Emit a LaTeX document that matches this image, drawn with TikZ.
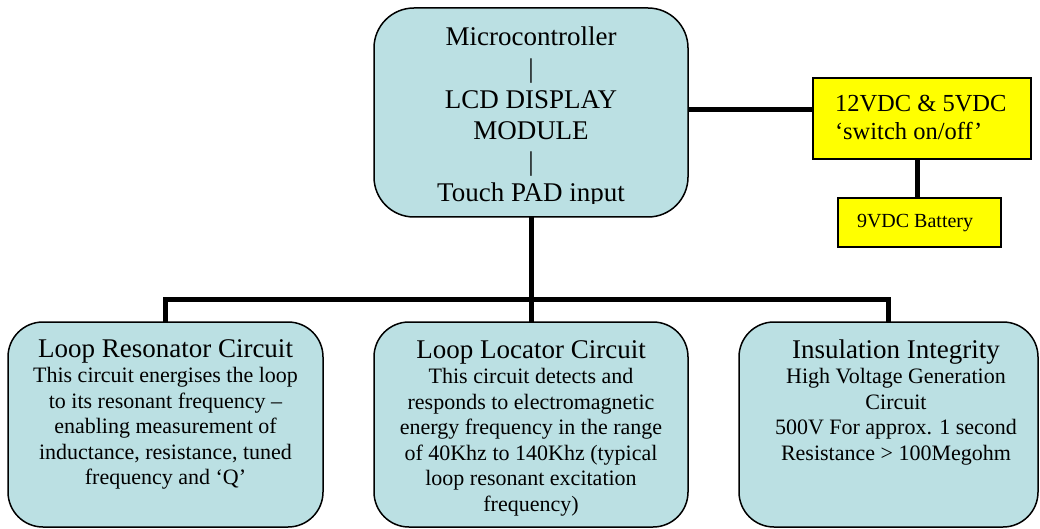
\documentclass[tikz,border=0pt]{standalone}
\usepackage{fontspec}
\setmainfont{Liberation Serif}
\definecolor{boxblue}{RGB}{187,224,227}
\definecolor{boxyellow}{RGB}{255,255,0}
\tikzset{
  bluebox/.style={draw=black, line width=1.5pt, fill=boxblue, inner sep=0pt, outer sep=0pt},
  ybox/.style={draw=black, line width=1.5pt, fill=boxyellow, inner sep=0pt, outer sep=0pt},
  wire/.style={draw=black, line width=5pt, line join=miter},
  txt/.style={inner sep=0pt, outer sep=0pt, anchor=base},
}
\begin{document}
\begin{tikzpicture}[x=1pt, y=-1pt]
\useasboundingbox (0,0) rectangle (1040,529);
% boxes
\node[bluebox, rounded corners=40pt, minimum width=314pt, minimum height=209pt] (mc) at (531,112.5) {};
\node[ybox, minimum width=218pt, minimum height=81pt] (yb) at (922,118.5) {};
\node[ybox, minimum width=163pt, minimum height=49pt] (bat) at (919.5,222.5) {};
\node[bluebox, rounded corners=35pt, minimum width=315pt, minimum height=205pt] (lr) at (165.5,424.5) {};
\node[bluebox, rounded corners=35pt, minimum width=314pt, minimum height=205pt] (ll) at (531,424.5) {};
\node[bluebox, rounded corners=35pt, minimum width=299pt, minimum height=205pt] (ii) at (888.5,424.5) {};
% connectors
\coordinate (bus) at (531,299);
\draw[wire] (mc.south) -- (bus);
\draw[wire] (lr.north) |- (bus) -| (ii.north);
\draw[wire] (bus) -- (ll.north);
\draw[wire] (mc.east |- 0,110) -- (yb.west |- 0,110);
\draw[wire] ([xshift=-5pt]yb.south) -- ([xshift=-5pt]yb.south |- bat.north);
% texts
\begin{scope}
\clip (mc.north west) rectangle ([yshift=13pt]mc.south east);
\node[txt] (mctext) at (531,46) {\parbox[t]{320pt}{\centering\fontsize{27}{31.2}\selectfont Microcontroller\\|\\LCD DISPLAY\\MODULE\\|\\Touch PAD input}};
\end{scope}
\node[txt, anchor=base west] (ybtext) at (835,112) {\parbox[t]{190pt}{\raggedright\fontsize{24.5}{28}\selectfont 12VDC \& 5VDC\\‘switch on/off’}};
\node[txt, anchor=base west] (battext) at (857,227) {\fontsize{20}{24}\selectfont 9VDC Battery};
\node[txt] (lrtext) at (165.5,357) {\parbox[t]{330pt}{\centering{\fontsize{27}{31}\selectfont Loop Resonator Circuit\par}\fontsize{22}{25.5}\selectfont This circuit energises the loop\\to its resonant frequency –\\enabling measurement of\\inductance, resistance, tuned\\frequency and ‘Q’}};
\node[txt] (lltext) at (531,358) {\parbox[t]{330pt}{\centering{\fontsize{27}{31}\selectfont Loop Locator Circuit\par}\fontsize{22}{25.5}\selectfont This circuit detects and\\responds to electromagnetic\\energy frequency in the range\\of 40Khz to 140Khz (typical\\loop resonant excitation\\frequency)}};
\node[txt] (iitext) at (896,358) {\parbox[t]{330pt}{\centering{\fontsize{27}{31}\selectfont Insulation Integrity\par}\fontsize{22}{25.5}\selectfont High Voltage Generation\\Circuit\\500V For approx. 1 second\\Resistance > 100Megohm}};
\end{tikzpicture}
\end{document}
